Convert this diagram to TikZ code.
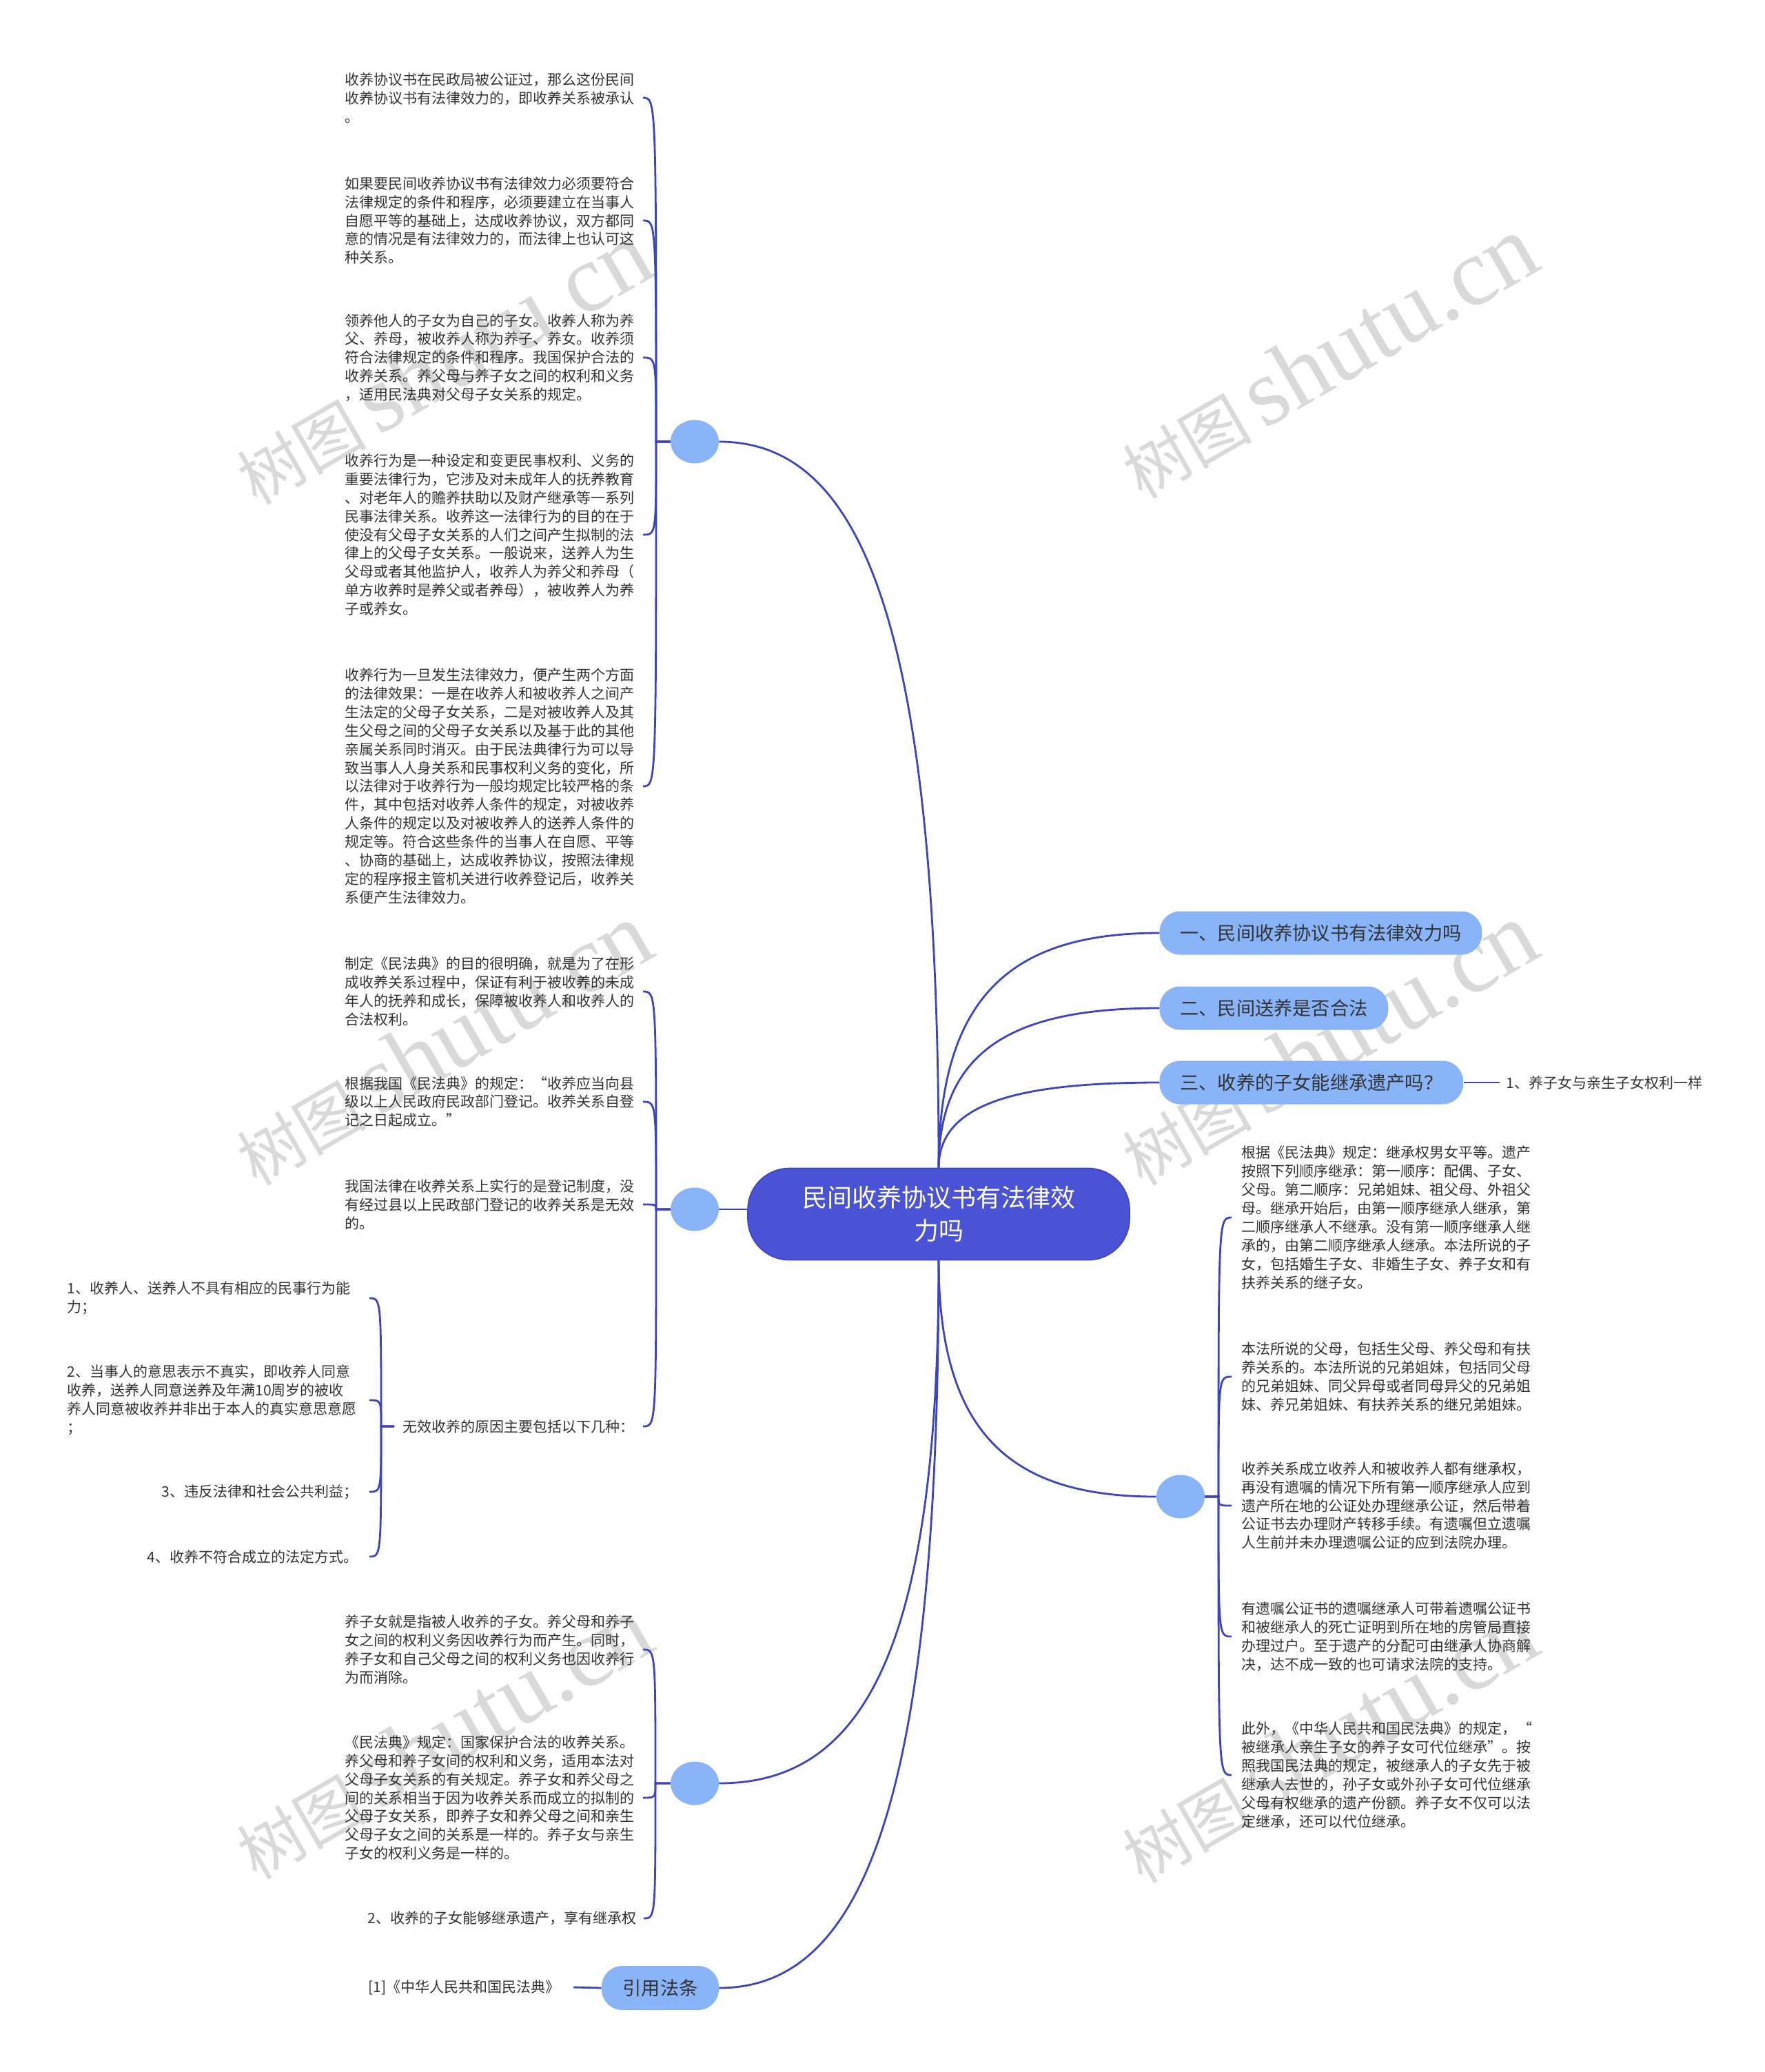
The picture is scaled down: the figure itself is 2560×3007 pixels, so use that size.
\documentclass[tikz,border=0pt]{standalone}
\usepackage{fontspec}
\setmainfont{Noto Sans CJK SC}
\newfontfamily\wmlat{Liberation Serif}
\usetikzlibrary{calc,shapes.geometric}
\definecolor{mainblue}{HTML}{4A53D6}
\definecolor{linec}{HTML}{3C45BF}
\definecolor{lightb}{HTML}{8AB4F8}
\definecolor{txt}{HTML}{333333}
\definecolor{wmc}{HTML}{D9D9D9}
\begin{document}
\begin{tikzpicture}[x=0.5pt,y=-0.5pt,
  conn/.style={draw=linec, line width=1.4pt},
  mcurve/.style={to path={.. controls ($(\tikztostart)!0.75!(\tikztostart |- \tikztotarget)$) and ($(\tikztostart |- \tikztotarget)!0.35!(\tikztotarget)$) .. (\tikztotarget)}},
  bcurve/.style={to path={.. controls (\tikztostart |- \tikztotarget) .. (\tikztotarget)}},
  leafbase/.style={inner ysep=0pt, text=txt, font=\fontsize{10.5pt}{13.45pt}\selectfont},
  leaf/.style={leafbase, text width=211pt},
  topic/.style={fill=lightb, rounded corners=15pt, minimum height=31.5pt, inner xsep=15pt, inner ysep=0pt, text=txt, font=\fontsize{13.6pt}{16pt}\selectfont},
  dot/.style={ellipse, fill=lightb, minimum width=35pt, minimum height=31.5pt, inner sep=0pt},
  wm/.style={text=wmc, rotate=30, inner sep=0pt}
]
\useasboundingbox (0,0) rectangle (2560,3007);
\fill[white] (0,0) rectangle (2560,3007);

% watermarks
\foreach \wx/\wy [count=\i] in {642/527, 1927/518, 642/1515, 1927/1515, 642/2522, 1927/2527}{
  \node[wm] (wm\i) at (\wx,\wy) {\fontsize{47pt}{50pt}\selectfont 树图\hspace{8pt}{\wmlat\fontsize{70pt}{72pt}\selectfont shutu.cn}};
}

% central
\node[draw=linec, line width=0.8pt, fill=mainblue, rounded corners=30pt, minimum width=277pt, minimum height=66.5pt, text=white, align=center, font=\fontsize{18pt}{24pt}\selectfont] (C0) at (1362,1762) {民间收养协议书有法律效\\力吗};

% right topics
\node[topic, anchor=west] (T1) at (1682,1354) {一、民间收养协议书有法律效力吗};
\node[topic, anchor=west] (T2) at (1682,1463) {二、民间送养是否合法};
\node[topic, anchor=west] (T3) at (1682,1571) {三、收养的子女能继承遗产吗？};
\node[leafbase, anchor=west, inner xsep=4.5pt] (L1) at (2176,1571) {1、养子女与亲生子女权利一样};

% dots
\node[dot] (E1) at (1008,641) {};
\node[dot] (E2) at (1008,1755) {};
\node[dot] (E3) at (1008,2588) {};
\node[dot] (E4) at (1713,2172) {};

% ref topic
\node[fill=lightb, rounded corners=15pt, minimum width=85pt, minimum height=32pt, inner xsep=15pt, inner ysep=0pt, text=txt, font=\fontsize{13.6pt}{16pt}\selectfont] (R) at (958,2885) {引用法条};
\node[leafbase, anchor=east, inner xsep=9.5pt] (Ref) at (832,2884) {[1]《中华人民共和国民法典》};

% A branch
\node[leaf, align=left, anchor=east, inner xsep=5pt] (A1) at (933,142) {收养协议书在民政局被公证过，那么这份民间\\收养协议书有法律效力的，即收养关系被承认\\。};
\node[leaf, align=left, anchor=east, inner xsep=5pt] (A2) at (933,320) {如果要民间收养协议书有法律效力必须要符合\\法律规定的条件和程序，必须要建立在当事人\\自愿平等的基础上，达成收养协议，双方都同\\意的情况是有法律效力的，而法律上也认可这\\种关系。};
\node[leaf, align=left, anchor=east, inner xsep=5pt] (A3) at (933,519) {领养他人的子女为自己的子女。收养人称为养\\父、养母，被收养人称为养子、养女。收养须\\符合法律规定的条件和程序。我国保护合法的\\收养关系。养父母与养子女之间的权利和义务\\，适用民法典对父母子女关系的规定。};
\node[leaf, align=left, anchor=east, inner xsep=5pt] (A4) at (933,776) {收养行为是一种设定和变更民事权利、义务的\\重要法律行为，它涉及对未成年人的抚养教育\\、对老年人的赡养扶助以及财产继承等一系列\\民事法律关系。收养这一法律行为的目的在于\\使没有父母子女关系的人们之间产生拟制的法\\律上的父母子女关系。一般说来，送养人为生\\父母或者其他监护人，收养人为养父和养母（\\单方收养时是养父或者养母），被收养人为养\\子或养女。};
\node[leaf, align=left, anchor=east, inner xsep=5pt] (A5) at (933,1141) {收养行为一旦发生法律效力，便产生两个方面\\的法律效果：一是在收养人和被收养人之间产\\生法定的父母子女关系，二是对被收养人及其\\生父母之间的父母子女关系以及基于此的其他\\亲属关系同时消灭。由于民法典律行为可以导\\致当事人人身关系和民事权利义务的变化，所\\以法律对于收养行为一般均规定比较严格的条\\件，其中包括对收养人条件的规定，对被收养\\人条件的规定以及对被收养人的送养人条件的\\规定等。符合这些条件的当事人在自愿、平等\\、协商的基础上，达成收养协议，按照法律规\\定的程序报主管机关进行收养登记后，收养关\\系便产生法律效力。};

% B branch
\node[leaf, align=left, anchor=east, inner xsep=5pt] (B1) at (933,1439) {制定《民法典》的目的很明确，就是为了在形\\成收养关系过程中，保证有利于被收养的未成\\年人的抚养和成长，保障被收养人和收养人的\\合法权利。};
\node[leaf, align=left, anchor=east, inner xsep=5pt] (B2) at (933,1599) {根据我国《民法典》的规定：“收养应当向县\\级以上人民政府民政部门登记。收养关系自登\\记之日起成立。”};
\node[leaf, align=left, anchor=east, inner xsep=5pt] (B3) at (933,1748) {我国法律在收养关系上实行的是登记制度，没\\有经过县以上民政部门登记的收养关系是无效\\的。};
\node[leafbase, anchor=east, inner xsep=6pt] (B4) at (933,2070) {无效收养的原因主要包括以下几种：};

% C sub-branch
\node[leaf, align=left, anchor=east, inner xsep=8pt] (C1) at (536,1884) {1、收养人、送养人不具有相应的民事行为能\\力；};
\node[leaf, align=left, anchor=east, inner xsep=8pt] (C2) at (536,2032) {2、当事人的意思表示不真实，即收养人同意\\收养，送养人同意送养及年满10周岁的被收\\养人同意被收养并非出于本人的真实意思意愿\\；};
\node[leaf, align=right, anchor=east, inner xsep=8pt] (C3) at (536,2165) {3、违反法律和社会公共利益；};
\node[leaf, align=right, anchor=east, inner xsep=8pt] (C4) at (536,2259) {4、收养不符合成立的法定方式。};

% D branch
\node[leaf, align=left, anchor=east, inner xsep=5pt] (D1) at (933,2394) {养子女就是指被人收养的子女。养父母和养子\\女之间的权利义务因收养行为而产生。同时，\\养子女和自己父母之间的权利义务也因收养行\\为而消除。};
\node[leaf, align=left, anchor=east, inner xsep=5pt] (D2) at (933,2609) {《民法典》规定：国家保护合法的收养关系。\\养父母和养子女间的权利和义务，适用本法对\\父母子女关系的有关规定。养子女和养父母之\\间的关系相当于因为收养关系而成立的拟制的\\父母子女关系，即养子女和养父母之间和亲生\\父母子女之间的关系是一样的。养子女与亲生\\子女的权利义务是一样的。};
\node[leafbase, anchor=east, inner xsep=5pt] (D3) at (934,2784) {2、收养的子女能够继承遗产，享有继承权};

% F branch
\node[leaf, align=left, anchor=west, inner xsep=7pt] (F1) at (1787,1767) {根据《民法典》规定：继承权男女平等。遗产\\按照下列顺序继承：第一顺序：配偶、子女、\\父母。第二顺序：兄弟姐妹、祖父母、外祖父\\母。继承开始后，由第一顺序继承人继承，第\\二顺序继承人不继承。没有第一顺序继承人继\\承的，由第二顺序继承人继承。本法所说的子\\女，包括婚生子女、非婚生子女、养子女和有\\扶养关系的继子女。};
\node[leaf, align=left, anchor=west, inner xsep=7pt] (F2) at (1787,1998) {本法所说的父母，包括生父母、养父母和有扶\\养关系的。本法所说的兄弟姐妹，包括同父母\\的兄弟姐妹、同父异母或者同母异父的兄弟姐\\妹、养兄弟姐妹、有扶养关系的继兄弟姐妹。};
\node[leaf, align=left, anchor=west, inner xsep=7pt] (F3) at (1787,2185) {收养关系成立收养人和被收养人都有继承权，\\再没有遗嘱的情况下所有第一顺序继承人应到\\遗产所在地的公证处办理继承公证，然后带着\\公证书去办理财产转移手续。有遗嘱但立遗嘱\\人生前并未办理遗嘱公证的应到法院办理。};
\node[leaf, align=left, anchor=west, inner xsep=7pt] (F4) at (1787,2375) {有遗嘱公证书的遗嘱继承人可带着遗嘱公证书\\和被继承人的死亡证明到所在地的房管局直接\\办理过户。至于遗产的分配可由继承人协商解\\决，达不成一致的也可请求法院的支持。};
\node[leaf, align=left, anchor=west, inner xsep=7pt] (F5) at (1787,2576) {此外，《中华人民共和国民法典》的规定，\hspace{\fill}“\\被继承人亲生子女的养子女可代位继承”。按\\照我国民法典的规定，被继承人的子女先于被\\继承人去世的，孙子女或外孙子女可代位继承\\父母有权继承的遗产份额。养子女不仅可以法\\定继承，还可以代位继承。};

% spine coordinates
\coordinate (sA) at (952,641);
\coordinate (sB) at (952,1755);
\coordinate (sC) at (553,2070);
\coordinate (sD) at (951,2588);
\coordinate (sF) at (1768,2172);

% main connectors
\draw[conn] (C0.north) to[mcurve] (T1.west);
\draw[conn] (C0.north) to[mcurve] (T2.west);
\draw[conn] (C0.north) to[mcurve] (T3.west);
\draw[conn] (C0.north) to[mcurve] (E1.east);
\draw[conn] (E2.east) -- (E2.east -| C0.west);
\draw[conn] (C0.south) to[mcurve] (E3.east);
\draw[conn] (C0.south) to[mcurve] (R.east);
\draw[conn] (C0.south) to[mcurve] (E4.west);
\draw[conn] (T3.east) -- (L1.west);
\draw[conn] (R.west) -- (Ref.east);

% brackets
\foreach \c in {A1,A2,A3,A4,A5}{\draw[conn] (E1.west) -- (sA) to[bcurve] (\c.east);}
\foreach \c in {B1,B2,B3,B4}{\draw[conn] (E2.west) -- (sB) to[bcurve] (\c.east);}
\foreach \c in {C1,C2,C3,C4}{\draw[conn] (B4.west) -- (sC) to[bcurve] (\c.east);}
\foreach \c in {D1,D2,D3}{\draw[conn] (E3.west) -- (sD) to[bcurve] (\c.east);}
\foreach \c in {F1,F2,F3,F4,F5}{\draw[conn] (E4.east) -- (sF) to[bcurve] (\c.west);}
\end{tikzpicture}
\end{document}
